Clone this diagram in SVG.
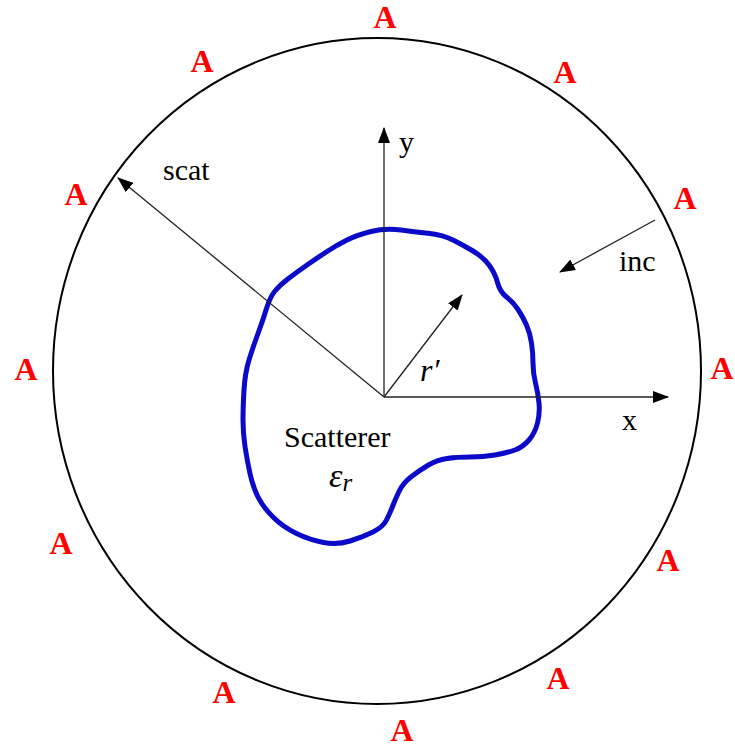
<svg xmlns="http://www.w3.org/2000/svg" width="735" height="750" viewBox="0 0 735 750">
<style>
.lbl{font-family:"Liberation Serif","Times New Roman",serif;font-size:30px;fill:#000}
.ant{font-family:"Liberation Serif","Times New Roman",serif;font-size:32px;font-weight:bold;fill:#FF0000;text-anchor:middle}
.ax{stroke:#222;stroke-width:1.3;fill:none}
.math{font-family:"Liberation Serif","Times New Roman",serif;font-style:italic;fill:#000}
</style>
<defs>
<marker id="ah" viewBox="0 0 16 12" refX="15" refY="6" markerWidth="16" markerHeight="12" markerUnits="userSpaceOnUse" orient="auto">
<path d="M0,0 L16,6 L0,12 Z" fill="#000"/>
</marker>
</defs>
<rect width="735" height="750" fill="#fff"/>
<g id="boundary">
<ellipse cx="377" cy="371" rx="324" ry="333" fill="none" stroke="#000" stroke-width="2"/>
</g>
<g id="scatterer">
<path fill="none" stroke="#0A0AC8" stroke-width="5" stroke-linejoin="round" d="M371,231.5 Q385,228 401,230 Q417,232 430,233.5 Q443,235 453,240 Q463,245 473,251 Q483,257 489,265 Q495,273 497.5,282.5 Q500,292 506.5,297 Q513,302 518,309.5 Q523,317 526.5,325 Q530,333 531.5,343 Q533,353 533,363 Q533,373 535.5,383 Q538,393 539,403 Q540,413 537.5,423 Q535,433 529,440 Q523,447 515,450 Q507,453 495,455 Q483,457 470,457 Q457,457 447,458.5 Q437,460 428.5,465 Q420,470 411.5,476.5 Q403,483 399,491.5 Q395,500 392.5,506.5 Q390,513 386.5,520 Q383,527 373,532 Q363,537 350,541 Q337,545 323.5,542.5 Q310,540 296.5,533.5 Q283,527 273,517 Q263,507 258,497 Q253,487 250,473.5 Q247,460 245,446.5 Q243,433 243,420 Q243,407 244,390 Q245,373 249,360 Q253,347 258,333.5 Q263,320 266.5,308.5 Q270,297 275,291 Q280,285 288.5,278.5 Q297,272 307,265 Q317,258 327,251.5 Q337,245 347,240 Q357,235 371,231.5 Z"/>
<text class="lbl" x="284" y="447" font-size="33">Scatterer</text>
<text class="math" x="329" y="487" font-size="34">ε<tspan font-size="25" dy="4">r</tspan></text>
</g>
<g id="connectors">
<line class="ax" x1="384" y1="397" x2="668" y2="397" marker-end="url(#ah)"/>
<line class="ax" x1="384" y1="397" x2="384" y2="128" marker-end="url(#ah)"/>
<line class="ax" x1="384" y1="397" x2="118" y2="178" marker-end="url(#ah)"/>
<line class="ax" x1="384" y1="397" x2="462" y2="295" marker-end="url(#ah)"/>
<line class="ax" x1="655" y1="220" x2="560" y2="272" marker-end="url(#ah)"/>
</g>
<g id="labels">
<text class="lbl" x="622" y="430">x</text>
<text class="lbl" x="399" y="152">y</text>
<text class="lbl" x="163" y="180">scat</text>
<text class="lbl" x="619" y="271">inc</text>
<text class="math" x="420" y="381" font-size="32">r′</text>
</g>
<g id="antennas">
<text class="ant" x="385" y="28">A</text>
<text class="ant" x="565" y="83">A</text>
<text class="ant" x="685" y="209">A</text>
<text class="ant" x="722" y="379">A</text>
<text class="ant" x="668" y="571">A</text>
<text class="ant" x="558" y="689">A</text>
<text class="ant" x="402" y="741">A</text>
<text class="ant" x="224" y="703">A</text>
<text class="ant" x="61" y="554">A</text>
<text class="ant" x="26" y="380">A</text>
<text class="ant" x="76" y="205">A</text>
<text class="ant" x="202" y="72">A</text>
</g>
</svg>
